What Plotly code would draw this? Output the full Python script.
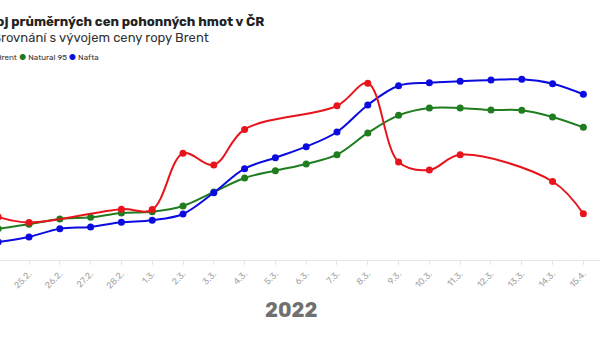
import plotly.graph_objects as go

dates = ["24.2.", "25.2.", "26.2.", "27.2.", "28.2.", "1.3.", "2.3.", "3.3.", "4.3.", "5.3.",
         "6.3.", "7.3.", "8.3.", "9.3.", "10.3.", "11.3.", "12.3.", "13.3.", "14.3.", "15.4."]

# Brent (USD/barel), no trading on weekends
brent = [99.0, 97.8, None, None, 100.7, 100.6, 112.8, 110.3, 118.0, None,
         None, 123.1, 128.0, 110.9, 109.2, 112.5, None, None, 106.7, 99.7]
# Natural 95 (Kč/l)
natural95 = [37.45, 37.78, 38.18, 38.30, 38.63, 38.72, 39.15, 40.20, 41.25, 41.80,
             42.30, 43.00, 44.63, 45.95, 46.50, 46.50, 46.35, 46.33, 45.83, 45.05]
# Nafta (Kč/l)
nafta = [36.45, 36.83, 37.45, 37.58, 37.93, 38.08, 38.55, 40.15, 41.95, 42.77,
         43.60, 44.70, 46.73, 48.17, 48.40, 48.50, 48.60, 48.65, 48.32, 47.53]

RED, GREEN, BLUE = "#e8141b", "#1f7d1f", "#0b0be0"
FONT = "Rubik, Inter, 'Noto Sans', sans-serif"

fig = go.Figure()
fig.add_trace(go.Scatter(x=dates, y=brent, name="Brent", yaxis="y2", mode="lines+markers",
                         connectgaps=True, line=dict(color=RED, width=2, shape="spline"),
                         marker=dict(size=7, color=RED)))
fig.add_trace(go.Scatter(x=dates, y=natural95, name="Natural 95", mode="lines+markers",
                         line=dict(color=GREEN, width=2, shape="spline"),
                         marker=dict(size=7, color=GREEN)))
fig.add_trace(go.Scatter(x=dates, y=nafta, name="Nafta", mode="lines+markers",
                         line=dict(color=BLUE, width=2, shape="spline"),
                         marker=dict(size=7, color=BLUE)))

W, H = 600, 337
T, B = 60, 77
PH = H - T - B

def py(p):
    return (H - B - p) / PH

fig.update_layout(
    width=W, height=H,
    margin=dict(l=0, r=0, t=T, b=B),
    paper_bgcolor="white", plot_bgcolor="white",
    showlegend=False,
    font=dict(family=FONT),
    xaxis=dict(type="category", range=[0.058, 19.54], showgrid=False,
               showline=True, linecolor="#e6e6e6", linewidth=1,
               ticks="outside", ticklen=4, tickcolor="#e6e6e6",
               tickangle=-45, tickfont=dict(size=9, color="#a6a6a6", family=FONT)),
    yaxis=dict(range=[35.1, 50.1], visible=False, showgrid=False),
    yaxis2=dict(range=[89.67, 133.05], overlaying="y", visible=False, showgrid=False),
    annotations=[
        dict(text="<b>Vývoj průměrných cen pohonných hmot v ČR</b>", xref="paper", yref="paper",
             x=266 / W, y=py(21), xanchor="right", yanchor="middle", showarrow=False,
             font=dict(size=13.2, color="#222222", family=FONT)),
        dict(text="Srovnání s vývojem ceny ropy Brent", xref="paper", yref="paper",
             x=211 / W, y=py(37), xanchor="right", yanchor="middle", showarrow=False,
             font=dict(size=13, color="#333333", family=FONT)),
        dict(text=f"<span style='color:{RED}'>●</span> Brent <span style='color:{GREEN}'>●</span> Natural 95 "
                  f"<span style='color:{BLUE}'>●</span> Nafta",
             xref="paper", yref="paper", x=101 / W, y=py(57), xanchor="right", yanchor="middle",
             showarrow=False, font=dict(size=8, color="#333333", family=FONT)),
        dict(text="<b>2022</b>", xref="paper", yref="paper", x=291 / W, y=py(310),
             xanchor="center", yanchor="middle", showarrow=False,
             font=dict(size=20, color="#707070", family=FONT)),
    ],
)

fig.write_html("out.html")
